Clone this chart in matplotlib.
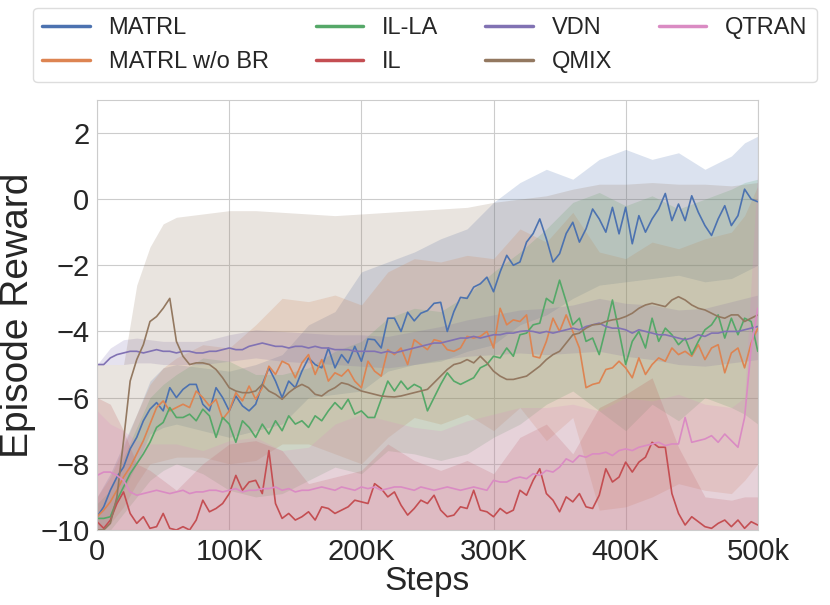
import numpy as np
import matplotlib
matplotlib.use("Agg")
import matplotlib.pyplot as plt
import seaborn as sns

# ── Data (steps in thousands) ───────────────────────────────────────────────
STEPS_K = np.arange(0, 505, 5)

MATRL = [
    -9.6, -9.3, -8.8, -8.4, -8.1, -7.55, -7.2, -6.7, -6.35, -6.15,
    -6.4, -5.7, -6.0, -5.75, -5.6, -5.6, -6.2, -6.4, -5.7, -6.0,
    -6.4, -5.95, -6.25, -6.4, -6.2, -5.6, -5.1, -5.5, -6.0, -5.5,
    -5.7, -5.2, -4.8, -5.0, -5.1, -4.5, -5.1, -4.7, -4.95, -4.45,
    -4.9, -4.23, -4.25, -4.5, -3.6, -3.6, -4.0, -3.42, -3.68, -3.45,
    -3.37, -3.15, -3.12, -4.0, -3.4, -2.97, -3.0, -2.66, -2.56, -2.36,
    -2.8, -2.2, -1.7, -2.0, -1.9, -1.3, -1.04, -0.6, -1.2, -1.9,
    -1.65, -1.04, -0.7, -1.3, -0.9, -0.3, -0.6, -1.0, -0.25, -1.05,
    -0.25, -1.35, -0.5, -1.0, -0.6, -0.3, 0.17, -0.65, -0.15, -0.65,
    0.1, -0.4, -0.8, -1.1, -0.6, -0.2, -0.8, -0.5, 0.3, 0.0,
    -0.08,
]
MATRL_NOBR = [
    -9.6, -9.4, -9.15, -8.8, -8.4, -8.1, -7.7, -7.3, -6.8, -6.3,
    -6.1, -6.4, -6.3, -6.2, -6.3, -5.8, -6.0, -6.25, -6.05, -6.65,
    -6.4, -5.85, -6.1, -5.65, -6.05, -5.7, -5.05, -5.3, -4.9, -5.0,
    -5.4, -4.95, -4.7, -5.3, -4.85, -5.5, -5.25, -5.35, -5.15, -5.5,
    -5.7, -4.9, -5.2, -5.35, -4.55, -4.7, -4.5, -5.0, -4.25, -4.4,
    -4.55, -4.25, -4.3, -4.55, -4.6, -4.5, -4.15, -4.2, -4.15, -4.0,
    -4.5, -3.3, -3.8, -3.65, -3.7, -3.5, -4.75, -4.8, -4.3, -3.6,
    -4.0, -3.5, -4.0, -4.5, -5.7, -5.6, -5.55, -5.15, -5.1, -4.9,
    -5.1, -5.4, -4.8, -5.3, -5.0, -4.8, -4.9, -4.5, -4.7, -4.6,
    -4.75, -4.4, -4.85, -4.5, -4.4, -5.25, -4.65, -4.5, -5.1, -4.35,
    -3.9,
]
IL_LA = [
    -9.65, -9.65, -9.6, -9.1, -8.7, -8.3, -8.0, -7.7, -7.35, -6.9,
    -6.75, -6.3, -6.6, -6.6, -6.5, -6.7, -6.35, -6.55, -7.2, -6.6,
    -6.8, -7.35, -6.7, -6.9, -7.2, -6.8, -7.1, -6.7, -7.0, -6.55,
    -6.8, -6.7, -6.9, -6.55, -6.7, -6.4, -6.15, -6.35, -6.05, -6.5,
    -6.4, -6.6, -6.6, -6.05, -5.5, -5.8, -5.5, -5.75, -5.6, -5.7,
    -6.4, -6.0, -5.6, -5.25, -5.5, -5.6, -5.5, -5.4, -5.1, -5.0,
    -4.75, -4.8, -4.5, -4.75, -4.1, -4.05, -3.8, -3.75, -3.0, -3.15,
    -2.45, -3.1, -3.8, -3.6, -4.3, -4.2, -4.7, -3.9, -3.05, -4.0,
    -5.0, -4.3, -4.0, -4.5, -3.6, -4.3, -3.9, -4.1, -4.4, -4.2,
    -4.7, -4.3, -3.95, -3.8, -3.5, -4.2, -3.6, -4.1, -3.6, -3.7,
    -4.6,
]
IL = [
    -9.75, -9.95, -9.7, -9.2, -8.85, -9.5, -9.8, -9.6, -9.95, -9.9,
    -9.5, -9.95, -10.0, -9.9, -10.0, -9.7, -9.1, -9.45, -9.35, -9.2,
    -8.9, -8.35, -8.8, -8.55, -8.5, -8.9, -7.6, -9.2, -9.65, -9.5,
    -9.7, -9.6, -9.45, -9.7, -9.3, -9.35, -9.5, -9.4, -9.3, -9.1,
    -9.15, -9.2, -8.6, -8.75, -9.0, -8.85, -9.25, -9.55, -9.35, -9.1,
    -9.2, -8.95, -9.4, -9.6, -9.55, -9.3, -9.35, -8.8, -9.4, -9.45,
    -9.6, -9.35, -9.5, -9.4, -8.8, -8.95, -8.5, -8.15, -8.9, -9.1,
    -9.45, -9.0, -9.15, -8.9, -9.3, -9.35, -8.95, -8.15, -8.55, -8.4,
    -7.95, -8.25, -7.95, -7.8, -7.35, -7.5, -7.5, -8.9, -9.5, -9.85,
    -9.6, -9.75, -9.9, -9.95, -9.8, -9.7, -9.9, -9.7, -9.95, -9.75,
    -9.85,
]
VDN = [
    -5.0, -5.0, -4.8, -4.7, -4.65, -4.6, -4.6, -4.65, -4.6, -4.55,
    -4.6, -4.6, -4.65, -4.6, -4.6, -4.65, -4.65, -4.6, -4.6, -4.55,
    -4.5, -4.55, -4.55, -4.45, -4.4, -4.35, -4.4, -4.45, -4.45, -4.5,
    -4.45, -4.45, -4.5, -4.45, -4.5, -4.5, -4.55, -4.55, -4.55, -4.6,
    -4.6, -4.6, -4.6, -4.65, -4.6, -4.65, -4.6, -4.55, -4.5, -4.45,
    -4.4, -4.35, -4.35, -4.3, -4.25, -4.2, -4.2, -4.15, -4.2, -4.15,
    -4.1, -4.1, -4.05, -4.05, -4.0, -3.98, -4.0, -4.05, -4.0, -4.05,
    -4.0, -3.95, -3.9, -3.95, -3.85, -3.8, -3.75, -3.85, -3.9, -3.9,
    -3.95, -4.05, -3.95, -4.0, -4.05, -4.1, -4.1, -4.15, -4.2, -4.25,
    -4.2, -4.1, -4.15, -4.05, -4.05, -4.0, -4.0, -4.0, -3.95, -3.9,
    -3.85,
]
QMIX = [
    -10.0, -10.0, -9.8, -9.0, -7.3, -5.5, -4.85, -4.4, -3.7, -3.55,
    -3.3, -3.0, -4.3, -4.75, -5.0, -4.95, -4.95, -5.0, -5.15, -5.4,
    -5.7, -5.8, -5.85, -5.85, -5.8, -5.6, -5.8, -5.9, -6.05, -5.85,
    -5.7, -5.6, -5.7, -5.9, -5.95, -5.8, -5.7, -5.55, -5.6, -5.7,
    -5.8, -5.85, -5.9, -5.95, -5.97, -5.98, -5.95, -5.9, -5.85, -5.8,
    -5.75, -5.55, -5.35, -5.15, -5.0, -4.95, -4.85, -4.95, -4.75, -4.95,
    -5.2, -5.35, -5.45, -5.45, -5.4, -5.35, -5.2, -5.05, -4.85, -4.7,
    -4.6, -4.35, -4.1, -4.05, -3.9, -3.8, -3.78, -3.7, -3.65, -3.62,
    -3.55, -3.45, -3.3, -3.2, -3.15, -3.2, -3.25, -3.05, -2.95, -3.05,
    -3.2, -3.3, -3.35, -3.45, -3.55, -3.6, -3.5, -3.5, -3.7, -3.6,
    -3.5,
]
QTRAN = [
    -8.35, -8.25, -8.25, -8.35, -8.5, -8.85, -8.95, -8.9, -8.85, -8.8,
    -8.85, -8.9, -8.85, -8.8, -8.9, -8.85, -8.85, -8.8, -8.8, -8.85,
    -8.8, -8.75, -8.85, -8.8, -8.8, -8.75, -8.75, -8.7, -8.8, -8.75,
    -8.85, -8.8, -8.8, -8.75, -8.7, -8.75, -8.8, -8.7, -8.75, -8.8,
    -8.7, -8.75, -8.7, -8.8, -8.75, -8.7, -8.7, -8.75, -8.8, -8.7,
    -8.75, -8.8, -8.75, -8.7, -8.75, -8.8, -8.75, -8.7, -8.75, -8.8,
    -8.5, -8.55, -8.55, -8.45, -8.4, -8.45, -8.3, -8.35, -8.2, -8.25,
    -8.1, -7.85, -7.95, -7.75, -7.8, -7.7, -7.7, -7.65, -7.75, -7.6,
    -7.55, -7.6, -7.5, -7.45, -7.4, -7.35, -7.45, -7.4, -7.4, -6.6,
    -7.35, -7.3, -7.25, -7.15, -7.35, -7.1, -7.3, -7.5, -6.6, -4.5,
    -3.3,
]

# shaded bands (std), on a coarser grid
BAND_X_K = [0, 10, 20, 30, 40, 50, 60, 80, 100, 120, 140, 160, 180, 200, 220,
            240, 260, 280, 300, 320, 340, 360, 380, 400, 420, 440, 460, 480, 490, 500]
FLOOR = -10.5

MATRL_LO = [-10.2, -9.6, -8.8, -8.0, -7.1, -6.9, -6.8, -7.0, -7.2, -7.0,
            -6.8, -6.0, -5.9, -5.8, -5.2, -5.0, -4.9, -4.6, -4.4, -3.8,
            -3.5, -3.0, -2.6, -2.5, -2.4, -2.3, -2.5, -2.4, -2.2, -2.0]
MATRL_HI = [-9.0, -8.3, -7.4, -6.5, -5.5, -5.1, -5.0, -5.1, -5.2, -5.0,
            -4.7, -3.8, -3.4, -2.2, -1.9, -1.6, -1.2, -0.9, -0.1, 0.5,
            0.9, 0.6, 1.2, 1.5, 1.2, 1.4, 0.9, 1.3, 1.7, 1.9]
NOBR_LO = [-10.2, -9.8, -9.3, -8.6, -8.0, -7.9, -7.8, -7.8, -8.0, -7.9,
           -7.4, -7.4, -7.7, -8.0, -7.2, -6.6, -6.8, -6.5, -7.0, -6.3,
           -7.3, -6.6, -9.4, -9.3, -9.0, -8.6, -8.8, -8.9, -8.5, -8.0]
NOBR_HI = [-9.0, -8.4, -7.5, -6.5, -5.6, -5.1, -4.8, -4.4, -4.5, -3.8,
           -3.0, -3.1, -2.9, -3.2, -2.2, -1.8, -1.9, -1.7, -1.8, -0.9,
           -1.3, -0.4, -1.6, -1.8, -1.3, -1.5, -1.2, -1.0, -0.5, 0.4]
IL_LA_LO = [-10.2, -10.0, -9.5, -9.0, -8.5, -8.2, -8.0, -8.3, -8.8, -9.0,
            -8.9, -8.5, -8.1, -8.3, -7.6, -7.7, -7.9, -7.7, -7.2, -6.8,
            -6.2, -5.8, -6.4, -7.0, -6.2, -6.7, -6.0, -6.3, -6.5, -6.8]
IL_LA_HI = [-9.2, -8.8, -7.8, -6.9, -6.0, -5.6, -5.3, -4.8, -4.9, -5.3,
            -5.3, -5.1, -4.6, -4.3, -3.6, -3.3, -3.4, -2.9, -2.2, -1.6,
            -0.9, -0.1, 0.2, -0.2, 0.1, -0.3, 0.0, 0.3, 0.5, 0.6]
IL_HI = [-6.0, -6.2, -7.0, -8.0, -8.2, -8.5, -8.8, -8.0, -7.4, -7.3,
         -7.6, -8.6, -8.4, -8.2, -7.4, -7.9, -8.2, -7.9, -8.3, -7.2,
         -6.8, -7.7, -6.3, -5.9, -5.4, -7.5, -9.0, -9.1, -9.0, -9.0]
VDN_LO = [-5.0, -5.0, -5.0, -4.95, -4.95, -5.0, -5.0, -5.0, -4.9, -4.8,
          -4.9, -4.95, -5.0, -5.05, -5.1, -5.0, -4.85, -4.75, -4.7, -4.65,
          -4.7, -4.65, -4.6, -4.75, -4.85, -5.0, -5.05, -4.95, -4.9, -4.85]
VDN_HI = [-5.0, -4.5, -4.25, -4.2, -4.25, -4.3, -4.3, -4.3, -4.1, -3.95,
          -4.0, -4.05, -4.1, -4.1, -4.15, -4.0, -3.85, -3.65, -3.5, -3.35,
          -3.3, -3.2, -3.0, -3.15, -3.2, -3.35, -3.3, -3.1, -3.0, -2.9]
QMIX_HI = [-5.0, -5.0, -5.0, -2.6, -1.45, -0.75, -0.55, -0.45, -0.35, -0.35,
           -0.4, -0.45, -0.5, -0.45, -0.4, -0.35, -0.3, -0.25, -0.1, 0.0,
           0.1, 0.3, 0.45, 0.45, 0.5, 0.45, 0.45, 0.4, 0.45, 0.5]
QTRAN_HI = [-6.4, -6.8, -7.0, -7.3, -7.4, -7.4, -7.4, -7.6, -7.3, -7.2,
            -7.6, -7.5, -6.8, -6.5, -6.7, -6.9, -7.0, -6.7, -6.5, -6.3,
            -6.3, -6.2, -6.4, -6.0, -6.1, -5.9, -6.2, -6.3, -6.0, 1.0]

LABELS = ["MATRL", "MATRL w/o BR", "IL-LA", "IL", "VDN", "QMIX", "QTRAN"]
X_TICKS_K = [0, 100, 200, 300, 400, 500]
X_TICK_LABELS = ["0", "100K", "200K", "300K", "400K", "500k"]
Y_TICKS = [-10, -8, -6, -4, -2, 0, 2]


def main():
    sns.set_style("whitegrid")
    plt.rcParams["font.family"] = ["Liberation Sans", "DejaVu Sans"]
    colors = sns.color_palette("deep", 7)

    means = [MATRL, MATRL_NOBR, IL_LA, IL, VDN, QMIX, QTRAN]
    bands = [
        (MATRL_LO, MATRL_HI),
        (NOBR_LO, NOBR_HI),
        (IL_LA_LO, IL_LA_HI),
        (FLOOR, IL_HI),
        (VDN_LO, VDN_HI),
        (FLOOR, QMIX_HI),
        (FLOOR, QTRAN_HI),
    ]

    fig = plt.figure(figsize=(8.3, 6.05), dpi=100)
    ax = fig.add_axes([0.117, 0.124, 0.796, 0.711])

    steps = STEPS_K * 1000
    band_x = np.array(BAND_X_K) * 1000

    for (lo, hi), c in zip(bands, colors):
        ax.fill_between(band_x, lo, hi, color=c, alpha=0.2, linewidth=0)

    handles = []
    for y, c, lab in zip(means, colors, LABELS):
        ln, = ax.plot(steps, y, color=c, lw=1.2, label=lab)
        handles.append(ln)

    ax.set_xlim(0, 500000)
    ax.set_ylim(-10, 3)
    ax.set_xticks(np.array(X_TICKS_K) * 1000)
    ax.set_xticklabels(X_TICK_LABELS)
    ax.set_yticks(Y_TICKS)
    ax.tick_params(labelsize=21, pad=2)
    ax.set_xlabel("Steps", fontsize=24, labelpad=0)
    ax.set_ylabel("Episode Reward", fontsize=28, labelpad=3)
    for s in ax.spines.values():
        s.set_color("#cccccc")

    leg = fig.legend(handles=handles, labels=LABELS, ncol=4, loc="upper center",
                     bbox_to_anchor=(0.512, 0.995), fontsize=17, frameon=True,
                     handlelength=2.0, columnspacing=2.0, borderaxespad=0.2)
    leg.get_frame().set_edgecolor("#d5d5d5")
    for h in leg.legend_handles:
        h.set_linewidth(2.5)

    fig.savefig("out.png", dpi=100)


if __name__ == "__main__":
    main()
